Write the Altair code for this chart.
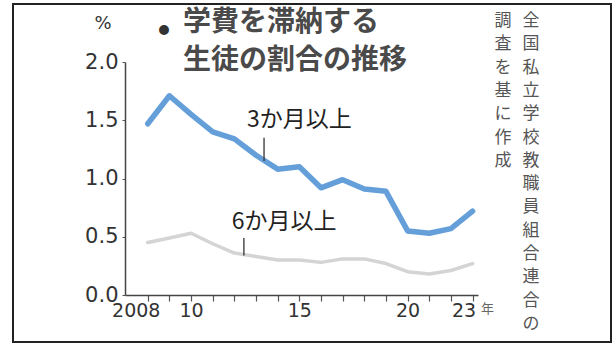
import altair as alt
import pandas as pd

# ---- data ----
years = list(range(2008, 2024))
three_months = [1.47, 1.71, 1.55, 1.40, 1.34, 1.20, 1.08, 1.10, 0.92, 0.99, 0.91, 0.89, 0.55, 0.53, 0.57, 0.72]
six_months = [0.45, 0.49, 0.53, 0.44, 0.36, 0.33, 0.30, 0.30, 0.28, 0.31, 0.31, 0.27, 0.20, 0.18, 0.21, 0.27]
series_names = ["3か月以上", "6か月以上"]
x_label_years = [2008, 2010, 2015, 2020, 2023]
x_label_texts = ["2008", "10", "15", "20", "23"]
y_ticks = [0.0, 0.5, 1.0, 1.5, 2.0]
title_lines = ["学費を滞納する", "生徒の割合の推移"]
source_cols = ["全国私立学校教職員組合連合の", "調査を基に作成"]
unit_y = "%"
unit_x = "年"

# annotation anchors (data space)
ann_label = series_names
ann_x = [2015.0, 2014.3]
ann_y = [1.50, 0.63]
lead_x = [2013.37, 2012.44]
lead_y1 = [1.35, 0.49]
lead_y2 = [1.15, 0.34]

FONT = "Noto Sans CJK JP"
NUMFONT = "DejaVu Sans"
BLUE = "#649fd9"
GRAY = "#d4d4d4"

df = pd.DataFrame({
    "year": years * 2,
    "value": three_months + six_months,
    "series": [series_names[0]] * len(years) + [series_names[1]] * len(years),
})
ann = pd.DataFrame({"label": ann_label, "x": ann_x, "y": ann_y,
                    "lx": lead_x, "ly1": lead_y1, "ly2": lead_y2})

xscale = alt.Scale(domain=[2006.95, 2023.25], nice=False, zero=False)
yscale = alt.Scale(domain=[0, 2.0], nice=False)

label_expr = " : ".join(
    [f"datum.value == {y} ? '{t}'" for y, t in zip(x_label_years, x_label_texts)]
) + " : ''"

x_axis = alt.Axis(values=years, labelExpr=label_expr, title=None, grid=False,
                  tickSize=6, labelPadding=0, labelFontSize=19, labelColor="#333",
                  domainColor="#444", domainWidth=1.5, tickColor="#555", tickWidth=1.2,
                  labelFont=NUMFONT, labelFlush=False,
                  labelOffset={"condition": [
                      {"test": "datum.value == 2008", "value": -12},
                      {"test": "datum.value == 2023", "value": -9}],
                      "value": 0})
y_axis = alt.Axis(values=y_ticks, format=".1f", title=None, grid=False,
                  tickSize=3, labelPadding=4, labelFontSize=21, labelColor="#333",
                  domainColor="#444", domainWidth=1.5, tickColor="#555",
                  labelFont=NUMFONT)

base = alt.Chart(df)
line3 = base.transform_filter(alt.datum.series == series_names[0]).mark_line(
    color=BLUE, strokeWidth=5.5, strokeJoin="round", strokeCap="round"
).encode(x=alt.X("year:Q", scale=xscale, axis=x_axis),
         y=alt.Y("value:Q", scale=yscale, axis=y_axis))
line6 = base.transform_filter(alt.datum.series == series_names[1]).mark_line(
    color=GRAY, strokeWidth=3.5, strokeJoin="round", strokeCap="round"
).encode(x=alt.X("year:Q", scale=xscale, axis=x_axis),
         y=alt.Y("value:Q", scale=yscale, axis=y_axis))

ann_text = alt.Chart(ann).mark_text(font=FONT, fontSize=23, color="#222",
                                    align="center", baseline="middle").encode(
    x=alt.X("x:Q", scale=xscale, axis=x_axis),
    y=alt.Y("y:Q", scale=yscale, axis=y_axis),
    text="label:N")
ann_rule = alt.Chart(ann).mark_rule(color="#333", strokeWidth=1.3).encode(
    x=alt.X("lx:Q", scale=xscale, axis=x_axis),
    y=alt.Y("ly1:Q", scale=yscale, axis=y_axis),
    y2="ly2:Q")

one = alt.Data(values=[{"t": 1}])
title_df = pd.DataFrame({"t": title_lines, "py": [-53, -15]})
title = alt.Chart(title_df).mark_text(
    font=FONT, fontSize=28, fontWeight="bold", color="#4a4a4a", align="left",
    baseline="top").encode(
    x=alt.value(58), y=alt.Y("py:Q", scale=None, axis=None), text="t:N")
bullet = alt.Chart(one).mark_text(text="●", font=FONT, fontSize=11, color="#333",
                                  align="center", baseline="middle").encode(
    x=alt.value(39), y=alt.value(-31))
pct = alt.Chart(one).mark_text(text=unit_y, font=NUMFONT, fontSize=18, color="#333",
                               align="center", baseline="middle").encode(
    x=alt.value(-22), y=alt.value(-38))
nen = alt.Chart(one).mark_text(text=unit_x, font=FONT, fontSize=13, color="#666",
                               align="left", baseline="middle").encode(
    x=alt.value(356), y=alt.value(247))

src_rows = []
for col_text, px in zip(source_cols, [406, 378]):
    for i, ch in enumerate(col_text):
        src_rows.append({"t": ch, "px": px, "py": -49 + i * 23.3})
src = alt.Chart(pd.DataFrame(src_rows)).mark_text(
    font=FONT, fontSize=17, color="#555", align="center", baseline="top").encode(
    x=alt.X("px:Q", scale=None, axis=None),
    y=alt.Y("py:Q", scale=None, axis=None), text="t:N")

frame = alt.Chart(one).mark_rect(fill=None, stroke="#222", strokeWidth=2).encode(
    x=alt.value(-112), x2=alt.value(486), y=alt.value(-58), y2=alt.value(280))

chart = alt.layer(line3, line6, ann_rule, ann_text, title, bullet, pct, nen, src, frame).properties(
    width=353, height=233,
    autosize=alt.AutoSizeParams(type="none"),
    padding={"left": 125, "top": 62, "right": 136, "bottom": 49},
    background="white",
).configure_view(stroke=None)

chart.save("out.html", embed_options={"renderer": "svg", "actions": False})
